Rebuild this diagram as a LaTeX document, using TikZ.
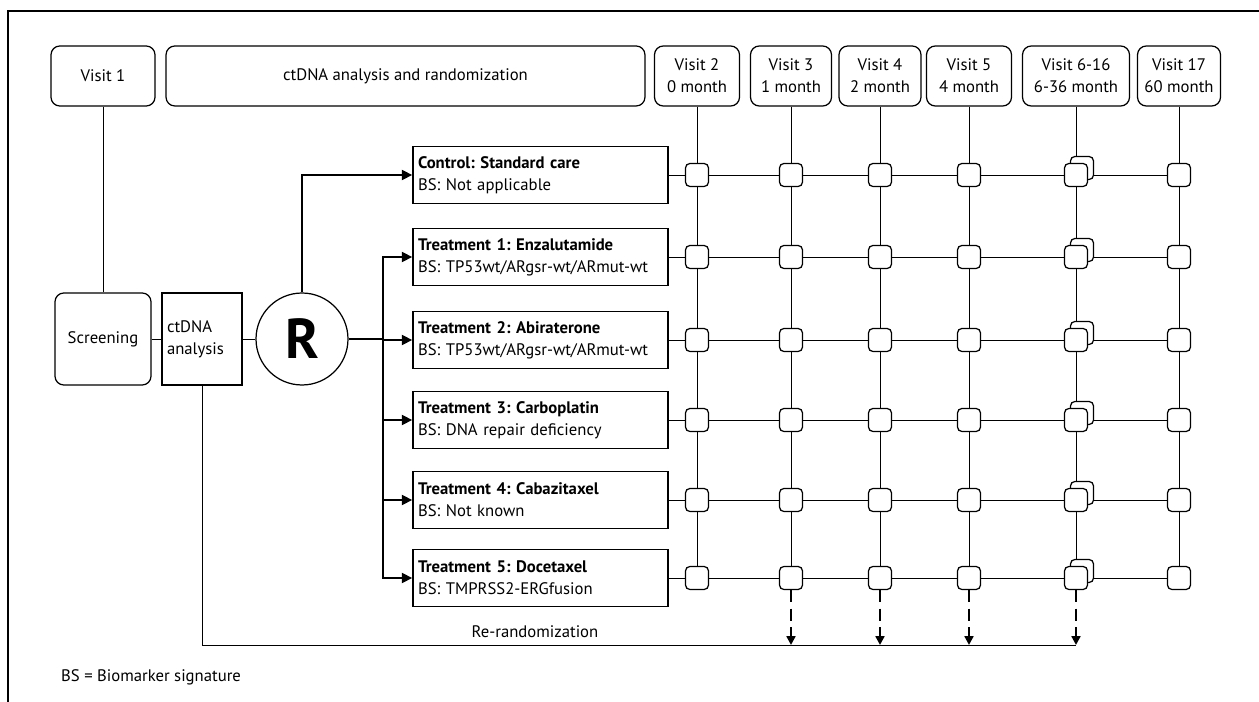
\documentclass[tikz,border=0pt]{standalone}
\usepackage{fontspec}
\setmainfont{PT Sans}
\frenchspacing
\usetikzlibrary{arrows.meta}
\pgfdeclarelayer{background}
\pgfsetlayers{background,main}

\begin{document}
\begin{tikzpicture}[x=0.02cm, y=-0.02cm, font=\fontsize{9.5}{12.5}\selectfont, line width=0.7pt,
  visit/.style={draw, rounded corners=5pt, align=center, minimum height=1.2cm, inner sep=0pt},
  arm/.style={draw, minimum width=5.1cm, minimum height=1.14cm, text width=4.9cm, align=left, inner sep=0pt},
  tick/.style={draw, fill=white, rounded corners=2.5pt, minimum size=0.46cm, inner sep=0pt},
  thickline/.style={line width=1.5pt},
  toarm/.style={thickline, -{Triangle[length=6pt,width=5.5pt]}},
  rerand/.style={line width=1.5pt, dash pattern=on 7pt off 3.5pt, -{Triangle[length=5pt,width=5pt]}}]
  \useasboundingbox (0,0) rectangle (1259,702);
  \draw (8,702) -- (8,11) -- (1259,11);

  \node[visit, minimum width=2.08cm] (v1) at (103,76) {Visit 1};
  \node[visit, minimum width=9.58cm] (ana) at (405.5,76) {ctDNA analysis and randomization};
  \node[visit, minimum width=1.7cm] (v2) at (697,76) {Visit 2\\0 month};
  \node[visit, minimum width=1.62cm] (v3) at (791,76) {Visit 3\\1 month};
  \node[visit, minimum width=1.64cm] (v4) at (880,76) {Visit 4\\2 month};
  \node[visit, minimum width=1.7cm] (v5) at (969,76) {Visit 5\\4 month};
  \node[visit, minimum width=2.14cm] (v6) at (1076,76) {Visit 6-16\\6-36 month};
  \node[visit, minimum width=1.66cm] (v7) at (1179,76) {Visit 17\\60 month};

  \node[draw, rounded corners=5pt, minimum width=1.92cm, minimum height=1.84cm] (scr) at (103,339) {Screening};
  \node[draw, minimum width=1.6cm, minimum height=1.84cm, text width=1.4cm, align=left, inner sep=0pt] (dna) at (202,339) {ctDNA\\analysis};
  \node[draw, circle, minimum size=1.84cm, inner sep=0pt, font=\fontsize{32}{32}\selectfont\bfseries] (rnd) at (302,339) {R};

  \node[arm] (a0) at (540.5,175) {\textbf{Control: Standard care}\\BS: Not applicable};
  \node[arm] (a1) at (540.5,257) {\textbf{Treatment 1: Enzalutamide}\\BS: TP53wt/ARgsr-wt/ARmut-wt};
  \node[arm] (a2) at (540.5,340) {\textbf{Treatment 2: Abiraterone}\\BS: TP53wt/ARgsr-wt/ARmut-wt};
  \node[arm] (a3) at (540.5,420) {\textbf{Treatment 3: Carboplatin}\\BS: DNA repair deficiency};
  \node[arm] (a4) at (540.5,500) {\textbf{Treatment 4: Cabazitaxel}\\BS: Not known};
  \node[arm] (a5) at (540.5,578) {\textbf{Treatment 5: Docetaxel}\\BS: TMPRSS2-ERGfusion};

  \foreach \r/\y in {0/175,1/257,2/340,3/420,4/500,5/578} {
    \foreach \c/\x in {2/697,3/791,4/880,5/969,7/1179}
      \node[tick] (g\c\r) at (\x,\y) {};
    \node[tick] (b6\r) at (1082,\y-7) {};
    \node[tick] (g6\r) at (1076,\y) {};
  }

  \begin{pgfonlayer}{background}
    \foreach \c in {2,...,7} \draw (v\c) -- (g\c0) -- (g\c5);
    \foreach \r in {0,...,5} \draw (a\r) -- (g7\r);
  \end{pgfonlayer}

  \draw (v1) -- (scr);
  \draw (scr) -- (dna);
  \draw (dna) -- (rnd);
  \coordinate (split) at (383,339);
  \draw[toarm] (rnd.north) |- (a0.west);
  \draw[thickline] (rnd.east) -- (split);
  \foreach \r in {1,...,5} \draw[toarm] (split) |- (a\r.west);

  \coordinate (rr) at (1076,645);
  \draw (dna.south) |- (rr);
  \node at (535,632) {Re-randomization};
  \foreach \c in {3,...,6} \draw[rerand] (g\c5.south) -- (g\c5.south |- rr);

  \node[anchor=west] (note) at (55,677) {BS = Biomarker signature};
\end{tikzpicture}
\end{document}
